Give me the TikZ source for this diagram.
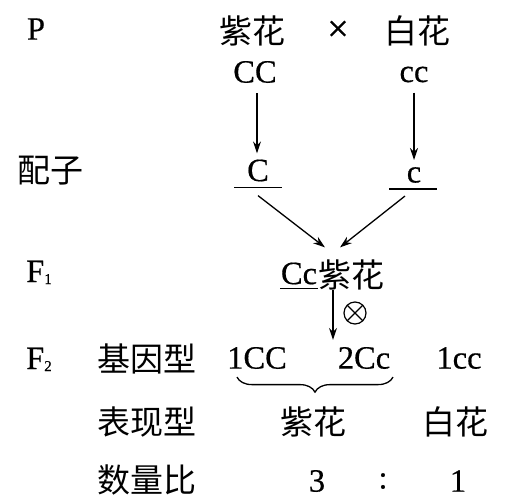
\documentclass[tikz,border=0pt]{standalone}
\usepackage{fontspec}
\setmainfont[FakeBold=0.5]{Liberation Serif}
\newfontfamily\cjk{Noto Sans CJK SC}
\usetikzlibrary{arrows.meta,decorations.pathreplacing}
\newcommand{\smallsub}[1]{\raisebox{-2pt}{\fontsize{15}{15}\selectfont #1}}
\begin{document}
\begin{tikzpicture}[x=1pt,y=-1pt,
  lat/.style={inner sep=0pt, font=\fontsize{32.5}{32.5}\selectfont},
  zh/.style={inner sep=0pt, font=\fontsize{33}{33}\selectfont\cjk},
  arr/.style={line width=1.3pt,-{Stealth[length=12pt,width=8pt]}},
  uline/.style={line width=1.3pt},
  brc/.style={line width=1.3pt, decorate, decoration={brace, mirror, amplitude=15pt}},
  selfing/.style={circle, draw, line width=1.2pt, minimum size=22pt, inner sep=0pt,
    path picture={\draw[line width=1.2pt] (path picture bounding box.north west) -- (path picture bounding box.south east)
      (path picture bounding box.north east) -- (path picture bounding box.south west);}}
]
\useasboundingbox (0,0) rectangle (505,500);
% row P
\node[lat] (P) at (36,29) {P};
\node[zh] (pz) at (252,31) {紫花};
\node[lat, font=\fontsize{38}{38}\selectfont] (cross) at (338,31) {×};
\node[zh] (pb) at (417,31) {白花};
\node[lat] (CC) at (255,72) {CC};
\node[lat] (cc) at (414,74.5) {cc};
% gametes
\node[zh] (pzl) at (50,171) {配子};
\node[lat] (gC) at (258,170.5) {C};
\node[lat] (gc) at (414,175) {c};
\draw[uline] ([shift={(-24,6)}]gC.south) -- ([shift={(24,6)}]gC.south);
\draw[uline] ([shift={(-25,6)}]gc.south) -- ([shift={(23,6)}]gc.south);
\draw[arr] ([shift={(2,10)}]CC.south) -- ([shift={(-1,-6)}]gC.north);
\draw[arr] ([shift={(0,10)}]cc.south) -- ([shift={(0,-7)}]gc.north);
% F1
\node[lat, anchor=base west] (F1) at (26,282) {F\smallsub{1}};
\node[lat] (f1Cc) at (299,273.5) {Cc};
\node[zh, anchor=west] (f1z) at ([xshift=1pt,yshift=-1.5pt]f1Cc.east) {紫花};
\draw[uline] ([shift={(-19,4)}]f1Cc.south) -- ([shift={(19,4)}]f1Cc.south);
\draw[arr] ([shift={(0,14)}]gC.south) -- ([shift={(26,-15)}]f1Cc.north);
\draw[arr] ([shift={(-9,13)}]gc.south) -- ([shift={(41,-15)}]f1Cc.north);
% F2
\node[lat, anchor=base west] (F2) at (26,369) {F\smallsub{2}};
\node[zh] (jyx) at (147,359) {基因型};
\node[lat] (g1) at (257,358) {1CC};
\node[lat] (g2) at (364,358) {2Cc};
\node[lat] (g3) at (459,358) {1cc};
\draw[arr] ([shift={(34,5)}]f1Cc.south) -- ([shift={(-31,-7)}]g2.north);
\node[selfing] (self) at (355,313) {};
\draw[brc] ([shift={(-20,8)}]g1.south) -- ([shift={(29,8)}]g2.south);
% phenotype
\node[zh] (bxx) at (147,422) {表现型};
\node[zh] (ph1) at (313,422) {紫花};
\node[zh] (ph2) at (455,422) {白花};
% ratio
\node[zh] (slb) at (147,480) {数量比};
\node[lat] (r3) at (317,481) {3};
\node[lat] (rc) at (383,481) {:};
\node[lat] (r1) at (458,481) {1};
\end{tikzpicture}
\end{document}
